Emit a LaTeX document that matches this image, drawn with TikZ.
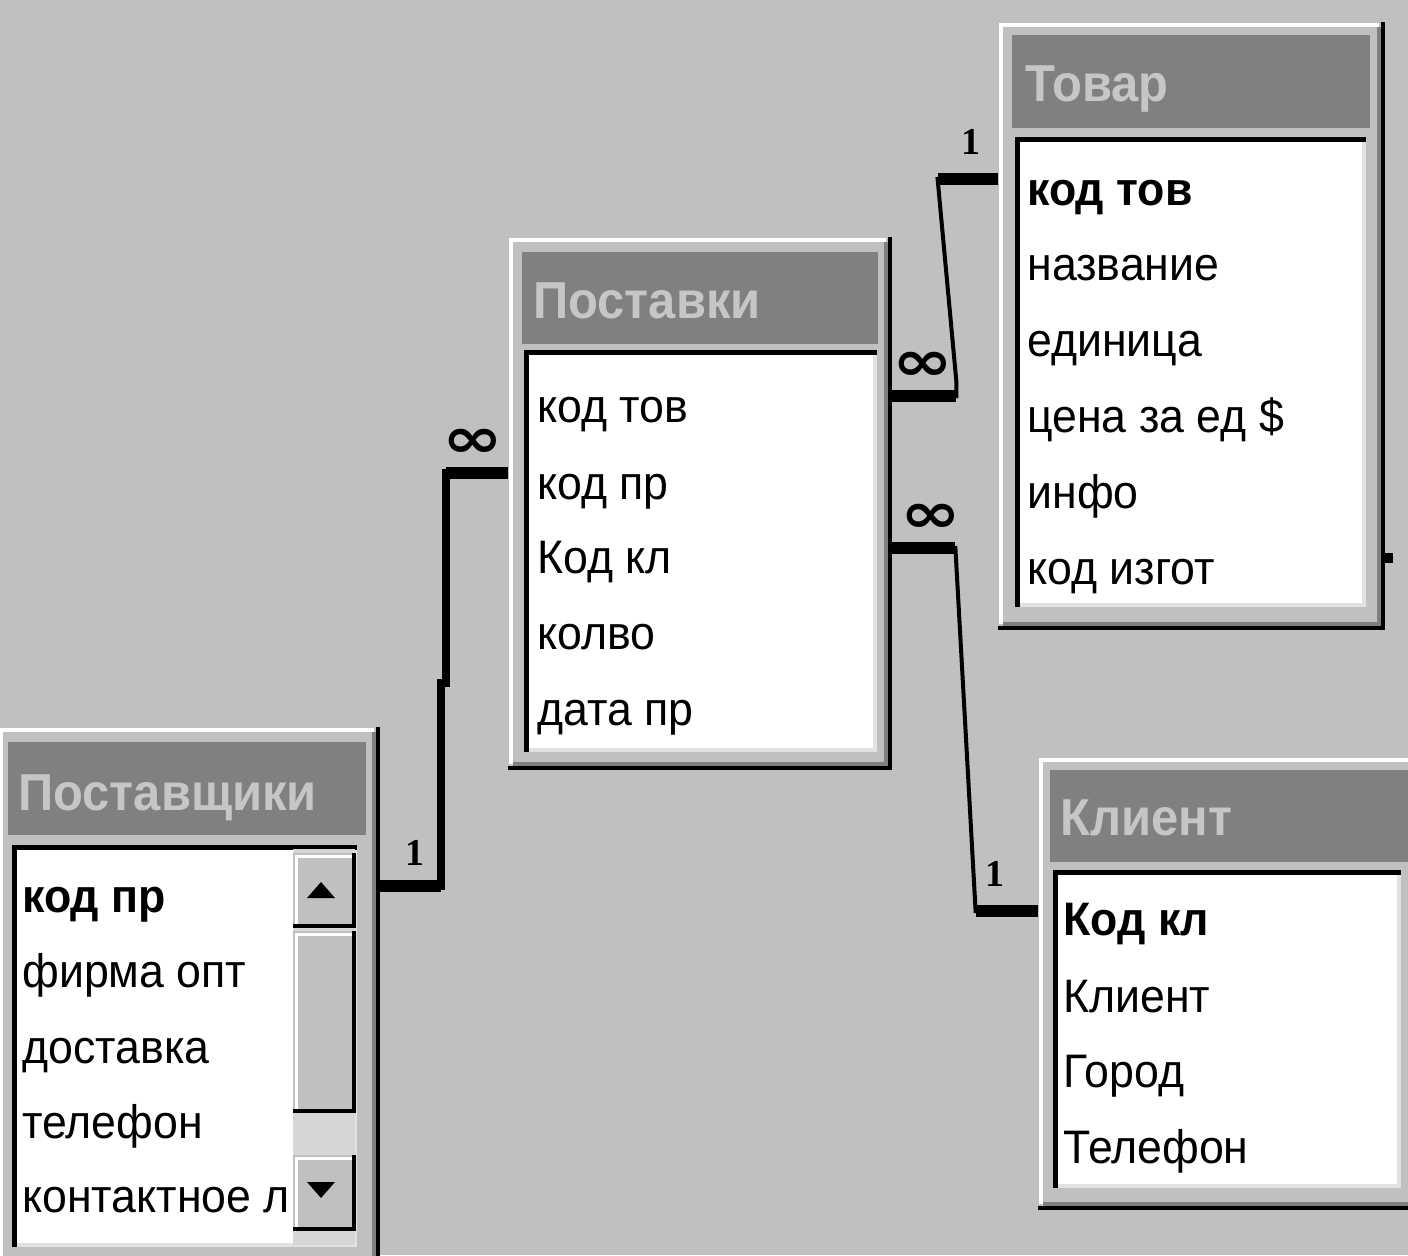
\documentclass[tikz,border=0pt]{standalone}
\usepackage{fontspec}
\setmainfont[FakeStretch=0.95]{Liberation Sans}
\newfontfamily\titlefont[FakeStretch=0.94]{Liberation Sans}
\newfontfamily\symfont{DejaVu Sans}
\newfontfamily\numfont{Liberation Serif}
\usetikzlibrary{calc,fit}
\definecolor{bg}{HTML}{C0C0C0}
\definecolor{tbar}{HTML}{808080}
\definecolor{ttext}{HTML}{C6C6C6}
\definecolor{lite}{HTML}{E2E2E2}
\definecolor{dither}{HTML}{D6D6D6}
\tikzset{
 winbox/.style={rectangle, fill=bg, inner sep=0pt, draw=none},
 titlebar/.style={rectangle, fill=tbar, inner sep=0pt, draw=none},
 listbox/.style={rectangle, fill=white, inner sep=0pt, draw=none},
 titletxt/.style={anchor=base west, inner sep=0pt, text=ttext, font=\titlefont\bfseries\fontsize{26}{30}\selectfont},
 row/.style={anchor=base west, inner sep=0pt, font=\fontsize{23.5}{27}\selectfont},
 keyrow/.style={row, font=\bfseries\fontsize{23.5}{27}\selectfont},
 hi/.style={draw=white, line width=2pt},
 sh/.style={draw=black, line width=2pt},
 stub/.style={draw=black, line width=6pt},
 vlink/.style={draw=black, line width=4pt, line cap=rect},
 thinlink/.style={draw=black, line width=2pt, line cap=rect},
 many/.style={font=\symfont\bfseries\fontsize{28}{28}\selectfont, inner sep=0pt},
 one/.style={font=\numfont\bfseries\fontsize{19}{19}\selectfont, inner sep=0pt},
}
\newcommand\inftyglyph{\scalebox{1.3}[1]{∞}}
\newcommand\frameedge[4]{%
  \draw[hi] ({#1+3},{#4-6}) -- ({#1+3},{#2+3}) -- ({#3-6},{#2+3});
  \draw[draw=tbar, line width=2pt] ({#1+5},{#4-6}) -- ({#3-6},{#4-6}) -- ({#3-6},{#2+5});
  \draw[sh] (#1,{#4-2}) -- ({#3-2},{#4-2}) -- ({#3-2},#2);
}
\newcommand\listedge[4]{%
  \draw[draw=lite, line width=2pt] ({#1+5},{#4-2}) -- ({#3-2},{#4-2}) -- ({#3-2},{#2+5});
  \draw[draw=black, line width=2.5pt] ({#1+2.5},#4) -- ({#1+2.5},{#2+2.5}) -- (#3,{#2+2.5});
}
\begin{document}
\begin{tikzpicture}[x=0.5pt, y=-0.5pt]
\fill[bg] (0,0) rectangle (1408,1255);
\path[use as bounding box] (0,0) rectangle (1408,1255);
\clip (0,0) rectangle (1408,1255);

% ---- Товар
\node[winbox, fit={(998,22) (1385,630)}] (tov) {};
\frameedge{998}{22}{1385}{630}
\node[titlebar, fit={(1012,35) (1370,128)}] (tov-t) {};
\node[titletxt] (tov-n) at (1025,101) {Товар};
\node[listbox, fit={(1015,137) (1366,607)}] (tov-l) {};
\listedge{1015}{137}{1366}{607}
\node[keyrow] (tov-1) at (1027,205) {код тов};
\node[row] (tov-2) at (1027,280) {название};
\node[row] (tov-3) at (1027,356) {единица};
\node[row] (tov-4) at (1027,432) {цена за ед \$};
\node[row] (tov-5) at (1027,508) {инфо};
\node[row] (tov-6) at (1027,584) {код изгот};

% ---- Поставки
\node[winbox, fit={(508,237) (892,770)}] (post) {};
\frameedge{508}{237}{892}{770}
\node[titlebar, fit={(522,252) (878,344)}] (post-t) {};
\node[titletxt] (post-n) at (533,318) {Поставки};
\node[listbox, fit={(524,350) (877,752)}] (post-l) {};
\listedge{524}{350}{877}{752}
\node[row] (post-1) at (537,422) {код тов};
\node[row] (post-2) at (537,499) {код пр};
\node[row] (post-3) at (537,573) {Код кл};
\node[row] (post-4) at (537,649) {колво};
\node[row] (post-5) at (537,725) {дата пр};

% ---- Поставщики
\node[winbox, fit={(-2,727) (380,1265)}] (sup) {};
\frameedge{-2}{727}{380}{1265}
\node[titlebar, fit={(8,742) (366,835)}] (sup-t) {};
\node[titletxt] (sup-n) at (18,810) {Поставщики};
\node[listbox, fit={(12,845) (357,1247)}] (sup-l) {};
\listedge{12}{845}{357}{1247}
\node[keyrow] (sup-1) at (22,912) {код пр};
\node[row] (sup-2) at (22,987) {фирма опт};
\node[row] (sup-3) at (22,1063) {доставка};
\node[row] (sup-4) at (22,1138) {телефон};
\node[row] (sup-5) at (22,1212) {контактное л};
% scrollbar
\fill[dither] (293,849) rectangle (355,1245);
\fill[bg] (293,853) rectangle (355,927);
\draw[white, line width=1.5pt] (296,925) -- (296,856) -- (352,856);
\draw[black, line width=2pt] (293,926) -- (354,926) -- (354,853);
\fill[black] (307,898) -- (335,898) -- (321,882) -- cycle;
\fill[bg] (293,931) rectangle (355,1112);
\draw[white, line width=1.5pt] (296,1110) -- (296,934) -- (352,934);
\draw[black, line width=2pt] (293,1111) -- (354,1111) -- (354,931);
\fill[bg] (293,1155) rectangle (355,1230);
\draw[white, line width=1.5pt] (296,1228) -- (296,1158) -- (352,1158);
\draw[black, line width=2pt] (293,1229) -- (354,1229) -- (354,1155);
\fill[black] (307,1182) -- (335,1182) -- (321,1198) -- cycle;

% ---- Клиент
\node[winbox, fit={(1038,757) (1430,1210)}] (kl) {};
\frameedge{1038}{757}{1430}{1210}
\node[titlebar, fit={(1050,770) (1430,862)}] (kl-t) {};
\node[titletxt] (kl-n) at (1060,835) {Клиент};
\node[listbox, fit={(1053,870) (1401,1188)}] (kl-l) {};
\listedge{1053}{870}{1401}{1188}
\node[keyrow] (kl-1) at (1063,935) {Код кл};
\node[row] (kl-2) at (1063,1012) {Клиент};
\node[row] (kl-3) at (1063,1087) {Город};
\node[row] (kl-4) at (1063,1163) {Телефон};

% ---- connector Поставщики -- Поставки
\coordinate (A) at ([yshift=13pt]sup-1.base -| sup.east);
\coordinate (A1) at ($(A)+(61,0)$);
\coordinate (B) at ([yshift=13pt]post-2.base -| post.west);
\coordinate (B1) at ($(B)+(-62,0)$);
\coordinate (J) at ($(B1)+(0,210)$);
\draw[stub] (A) -- (A1);
\draw[vlink] (A1) -- (A1 |- J) -- (J) -- (B1);
\draw[stub] (B1) -- (B);
\node[one] (l1) at ($(A)+(35,-33)$) {1};
\node[many] (l2) at ($(B)+(-35,-30)$) {\inftyglyph};

% ---- connector Поставки -- Товар
\coordinate (C) at ([yshift=13pt]post-1.base -| post.east);
\coordinate (C1) at ($(C)+(64,0)$);
\coordinate (D) at ([yshift=13pt]tov-1.base -| tov.west);
\coordinate (D1) at ($(D)+(-60,0)$);
\draw[stub] (C) -- (C1);
\draw[thinlink] (C1) -- ($(C1)+(0,-14)$) -- (D1);
\draw[stub] (D1) -- (D);
\node[many] (l3) at ($(C)+(30,-30)$) {\inftyglyph};
\node[one] (l4) at ($(D)+(-27,-37)$) {1};

% ---- connector Поставки -- Клиент
\coordinate (E) at ([yshift=12.5pt]post-3.base -| post.east);
\coordinate (E1) at ($(E)+(63,0)$);
\coordinate (F) at ([yshift=12pt]kl-1.base -| kl.west);
\coordinate (F1) at ($(F)+(-62,0)$);
\draw[stub] (E) -- (E1);
\draw[thinlink] (E1) -- (F1);
\draw[stub] (F1) -- (F);
\node[many] (l5) at ($(E)+(38,-30)$) {\inftyglyph};
\node[one] (l6) at ($(F)+(-43,-37)$) {1};

% ---- stub on Товар right side
\coordinate (G) at ([yshift=13pt]tov-6.base -| tov.east);
\coordinate (G1) at ($(G)+(8,0)$);
\draw[draw=black, line width=5pt] (G) -- (G1);
\end{tikzpicture}
\end{document}
